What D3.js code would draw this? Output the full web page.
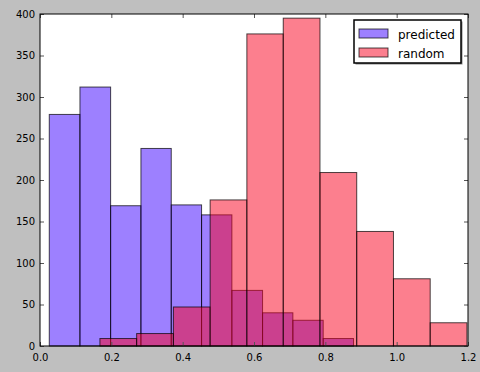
<!DOCTYPE html>
<html>
<head>
<meta charset="utf-8">
<script src="https://cdn.jsdelivr.net/npm/d3@7"></script>
<style>
  body { margin: 0; background: #bfbfbf; }
  svg { display: block; font-family: "DejaVu Sans", sans-serif; }
</style>
</head>
<body>
<svg id="chart"></svg>
<script>
  // histogram bin edges + counts
  var predictedEdges = [0.026, 0.112, 0.198, 0.283, 0.368, 0.453, 0.538, 0.624, 0.709, 0.794, 0.879];
  var predictedCounts = [279, 312, 169, 238, 170, 158, 67, 40, 31, 9];
  var randomEdges = [0.168, 0.271, 0.374, 0.477, 0.580, 0.682, 0.785, 0.888, 0.991, 1.094, 1.197];
  var randomCounts = [9, 15, 47, 176, 376, 395, 209, 138, 81, 28];

  var xTicks = [0.0, 0.2, 0.4, 0.6, 0.8, 1.0, 1.2];
  var yTicks = [0, 50, 100, 150, 200, 250, 300, 350, 400];
  var seriesNames = ["predicted", "random"];
  var seriesColors = ["rgb(59,1,255)", "rgb(249,0,29)"];

  function toBins(edges, counts) {
    var arr = [];
    for (var i = 0; i < counts.length; i++) {
      arr.push({ x0: edges[i], x1: edges[i + 1], n: counts[i] });
    }
    return arr;
  }

  var svgWidth = 480, svgHeight = 372;
  var margin = { top: 14, right: 12, bottom: 26, left: 40 };
  var width = svgWidth - margin.left - margin.right;
  var height = svgHeight - margin.top - margin.bottom;

  var svg = d3.select("#chart")
    .attr("width", svgWidth)
    .attr("height", svgHeight);

  var g = svg.append("g")
    .attr("transform", "translate(" + margin.left + "," + margin.top + ")");

  var x = d3.scaleLinear().domain([0, 1.2]).range([0, width]);
  var y = d3.scaleLinear().domain([0, 400]).range([height, 0]);

  g.append("rect")
    .attr("width", width)
    .attr("height", height)
    .attr("fill", "#fff");

  var series = [toBins(predictedEdges, predictedCounts), toBins(randomEdges, randomCounts)];

  series.forEach(function(bins, k) {
    g.append("g")
      .selectAll("rect")
      .data(bins)
      .enter()
      .append("rect")
      .attr("x", function(d) { return x(d.x0); })
      .attr("y", function(d) { return y(d.n); })
      .attr("width", function(d) { return x(d.x1) - x(d.x0); })
      .attr("height", function(d) { return y(0) - y(d.n); })
      .attr("fill", seriesColors[k])
      .attr("fill-opacity", 0.5)
      .attr("stroke", "#000")
      .attr("stroke-opacity", 0.7)
      .attr("stroke-width", 1);
  });

  // axes, ticks pointing inward like matplotlib
  var xAxis = d3.axisBottom(x).tickValues(xTicks).tickFormat(d3.format(".1f"))
    .tickSize(-4).tickPadding(8);
  var yAxis = d3.axisLeft(y).tickValues(yTicks).tickSize(-4).tickPadding(5);

  var gx = g.append("g").attr("transform", "translate(0," + height + ")").call(xAxis);
  var gy = g.append("g").call(yAxis);
  var gt = g.append("g").call(d3.axisTop(x).tickValues(xTicks).tickFormat("").tickSize(-4));
  var gr = g.append("g").attr("transform", "translate(" + width + ",0)")
    .call(d3.axisRight(y).tickValues(yTicks).tickFormat("").tickSize(-4));

  [gx, gy, gt, gr].forEach(function(a) {
    a.select(".domain").remove();
    a.selectAll(".tick line").attr("stroke", "#555");
    a.selectAll(".tick text").attr("fill", "#000").attr("font-size", 10)
      .attr("font-family", "DejaVu Sans, sans-serif");
  });

  g.append("rect")
    .attr("width", width)
    .attr("height", height)
    .attr("fill", "none")
    .attr("stroke", "#000")
    .attr("stroke-width", 1);

  // legend
  var legend = svg.append("g").attr("transform", "translate(354,20)");
  legend.append("rect")
    .attr("x", 1.5).attr("y", 1.5)
    .attr("width", 107).attr("height", 43)
    .attr("fill", "#888");
  legend.append("rect")
    .attr("width", 107).attr("height", 43)
    .attr("fill", "#fff")
    .attr("stroke", "#000")
    .attr("stroke-width", 1.5);

  seriesNames.forEach(function(name, k) {
    var row = legend.append("g").attr("transform", "translate(5," + (9 + k * 19) + ")");
    row.append("rect")
      .attr("width", 29).attr("height", 9)
      .attr("fill", "#fff");
    row.append("rect")
      .attr("width", 29).attr("height", 9)
      .attr("fill", seriesColors[k])
      .attr("fill-opacity", 0.5)
      .attr("stroke", "#000")
      .attr("stroke-opacity", 0.7);
    row.append("text")
      .attr("x", 39)
      .attr("y", 9.5)
      .attr("font-size", 12)
      .text(name);
  });
</script>
</body>
</html>
